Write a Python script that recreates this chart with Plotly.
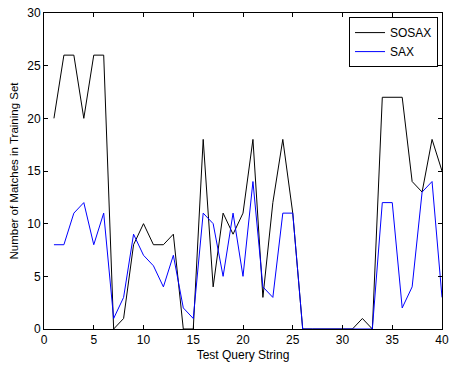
import plotly.graph_objects as go

x_vals = list(range(1, 41))
sosax = [20, 26, 26, 20, 26, 26, 0, 1, 8, 10,
         8, 8, 9, 0, 0, 18, 4, 11, 9, 11,
         18, 3, 12, 18, 11, 0, 0, 0, 0, 0,
         0, 1, 0, 22, 22, 22, 14, 13, 18, 15]
sax = [8, 8, 11, 12, 8, 11, 1, 3, 9, 7,
       6, 4, 7, 2, 1, 11, 10, 5, 11, 5,
       14, 4, 3, 11, 11, 0, 0, 0, 0, 0,
       0, 0, 0, 12, 12, 2, 4, 13, 14, 3]
x_ticks = [0, 5, 10, 15, 20, 25, 30, 35, 40]
y_ticks = [0, 5, 10, 15, 20, 25, 30]

font_family = "Liberation Sans, Arial, sans-serif"

fig = go.Figure()
fig.add_trace(go.Scatter(x=x_vals, y=sosax, mode="lines", name="SOSAX",
                         line=dict(color="black", width=1)))
fig.add_trace(go.Scatter(x=x_vals, y=sax, mode="lines", name="SAX",
                         line=dict(color="#0000ff", width=1)))

axis_common = dict(showgrid=False, zeroline=False, showline=True, linecolor="black",
                   linewidth=1, mirror="allticks", ticks="inside", ticklen=4,
                   tickcolor="black", ticklabeloverflow="allow",
                   tickfont=dict(size=12, color="black", family=font_family))

fig.update_layout(
    width=449, height=365,
    margin=dict(l=44, r=7, t=13, b=36, autoexpand=False),
    paper_bgcolor="white", plot_bgcolor="white",
    font=dict(family=font_family, size=12, color="black"),
    xaxis=dict(range=[0, 40], tickvals=x_ticks, title=dict(text="Test Query String", standoff=4,
               font=dict(size=12)), **axis_common),
    yaxis=dict(range=[0, 30], tickvals=y_ticks, title=dict(text="Number of Matches in Training Set",
               standoff=6, font=dict(size=11.5)), **axis_common),
    legend=dict(x=0.99, y=0.987, xanchor="right", yanchor="top",
                bordercolor="black", borderwidth=1, bgcolor="white",
                font=dict(size=12, family=font_family), tracegroupgap=0),
    showlegend=True,
)

fig.write_html("out.html", config={"displayModeBar": False},
               post_script="document.body.style.margin='0';document.body.style.padding='0';")
